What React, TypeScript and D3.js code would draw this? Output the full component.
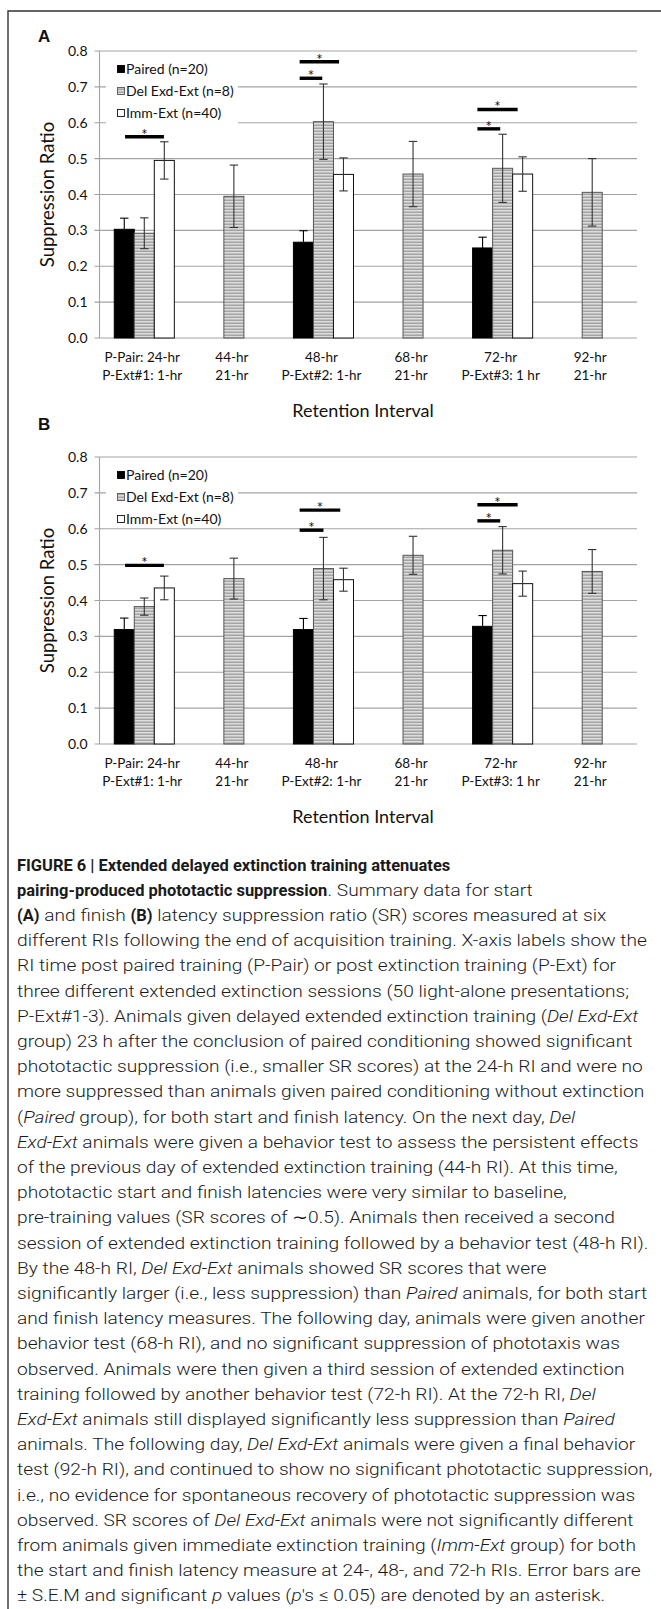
import React, { useEffect, useRef } from "react";
import * as d3 from "d3";

const W = 661;
const H = 1609;

// ---------- data ----------
const categoriesLine1 = ["P-Pair: 24-hr", "44-hr", "48-hr", "68-hr", "72-hr", "92-hr"];
const categoriesLine2 = ["P-Ext#1: 1-hr", "21-hr", "P-Ext#2: 1-hr", "21-hr", "P-Ext#3: 1 hr", "21-hr"];
const seriesNames = ["Paired (n=20)", "Del Exd-Ext (n=8)", "Imm-Ext (n=40)"];
const yTicks = [0, 0.1, 0.2, 0.3, 0.4, 0.5, 0.6, 0.7, 0.8];

// Panel A: start latency
const startPaired = [0.303, null, 0.267, null, 0.251, null];
const startPairedErr = [0.031, null, 0.032, null, 0.030, null];
const startDel = [0.292, 0.395, 0.603, 0.457, 0.473, 0.406];
const startDelErr = [0.043, 0.087, 0.105, 0.091, 0.095, 0.094];
const startImm = [0.495, null, 0.456, null, 0.457, null];
const startImmErr = [0.052, null, 0.046, null, 0.048, null];
// significance: category, from slot, to slot (slot units), value level
const startSigCat = [0, 2, 2, 4, 4];
const startSigFrom = [0.04, -0.19, -0.19, -0.26, -0.26];
const startSigTo = [1.98, 1.78, 0.94, 1.75, 0.88];
const startSigLevel = [0.561, 0.770, 0.724, 0.637, 0.583];

// Panel B: finish latency
const finishPaired = [0.319, null, 0.319, null, 0.328, null];
const finishPairedErr = [0.032, null, 0.031, null, 0.030, null];
const finishDel = [0.383, 0.461, 0.489, 0.526, 0.540, 0.481];
const finishDelErr = [0.024, 0.057, 0.087, 0.053, 0.066, 0.061];
const finishImm = [0.435, null, 0.458, null, 0.447, null];
const finishImmErr = [0.033, null, 0.032, null, 0.035, null];
const finishSigCat = [0, 2, 2, 4, 4];
const finishSigFrom = [0.04, -0.19, -0.19, -0.26, -0.26];
const finishSigTo = [1.98, 1.84, 1.0, 1.75, 0.88];
const finishSigLevel = [0.498, 0.652, 0.596, 0.667, 0.622];

const captionLines = [
  "**FIGURE 6 | Extended delayed extinction training attenuates**",
  "**pairing-produced phototactic suppression**. Summary data for start",
  "**(A)** and finish **(B)** latency suppression ratio (SR) scores measured at six",
  "different RIs following the end of acquisition training. X-axis labels show the",
  "RI time post paired training (P-Pair) or post extinction training (P-Ext) for",
  "three different extended extinction sessions (50 light-alone presentations;",
  "P-Ext#1-3). Animals given delayed extended extinction training (_Del Exd-Ext_",
  "group) 23 h after the conclusion of paired conditioning showed significant",
  "phototactic suppression (i.e., smaller SR scores) at the 24-h RI and were no",
  "more suppressed than animals given paired conditioning without extinction",
  "(_Paired_ group), for both start and finish latency. On the next day, _Del_",
  "_Exd-Ext_ animals were given a behavior test to assess the persistent effects",
  "of the previous day of extended extinction training (44-h RI). At this time,",
  "phototactic start and finish latencies were very similar to baseline,",
  "pre-training values (SR scores of \u223C0.5). Animals then received a second",
  "session of extended extinction training followed by a behavior test (48-h RI).",
  "By the 48-h RI, _Del Exd-Ext_ animals showed SR scores that were",
  "significantly larger (i.e., less suppression) than _Paired_ animals, for both start",
  "and finish latency measures. The following day, animals were given another",
  "behavior test (68-h RI), and no significant suppression of phototaxis was",
  "observed. Animals were then given a third session of extended extinction",
  "training followed by another behavior test (72-h RI). At the 72-h RI, _Del_",
  "_Exd-Ext_ animals still displayed significantly less suppression than _Paired_",
  "animals. The following day, _Del Exd-Ext_ animals were given a final behavior",
  "test (92-h RI), and continued to show no significant phototactic suppression,",
  "i.e., no evidence for spontaneous recovery of phototactic suppression was",
  "observed. SR scores of _Del Exd-Ext_ animals were not significantly different",
  "from animals given immediate extinction training (_Imm-Ext_ group) for both",
  "the start and finish latency measure at 24-, 48-, and 72-h RIs. Error bars are",
  "\u00B1 S.E.M and significant _p_ values (_p_'s \u2264 0.05) are denoted by an asterisk.",
];

// ---------- layout ----------
const X0 = 99.5;
const X1 = 637;
const CHART_FONT = "Lato, 'Open Sans', sans-serif";

type PanelCfg = {
  label: string;
  labelY: number;
  top: number;
  bottom: number;
  legendY: number[];
  legendBox: [number, number];
  values: (number | null)[][];
  errs: (number | null)[][];
  sigCat: number[];
  sigFrom: number[];
  sigTo: number[];
  sigLevel: number[];
};

function drawPanel(svg: any, p: PanelCfg) {
  const g = svg.append("g");
  const x = d3.scaleBand<number>().domain(d3.range(6)).range([X0, X1]).padding(0);
  const bw = x.bandwidth() * 0.2235;
  const slot = d3.scaleLinear().domain([0, 2]).range([-bw, bw]);
  const y = d3.scaleLinear().domain([0, 0.8]).range([p.bottom, p.top]);
  const cx = (c: number) => (x(c) as number) + x.bandwidth() / 2;

  // panel letter
  g.append("text")
    .attr("x", 38)
    .attr("y", p.labelY)
    .attr("font-family", "'Liberation Sans', Arial, sans-serif")
    .attr("font-weight", 700)
    .attr("font-size", 17)
    .attr("fill", "#111")
    .text(p.label);

  // gridlines + ticks
  yTicks.forEach((t) => {
    g.append("line")
      .attr("x1", X0 - 5)
      .attr("x2", X1)
      .attr("y1", y(t))
      .attr("y2", y(t))
      .attr("stroke", "#a3a3a3")
      .attr("stroke-width", 1.1);
    g.append("text")
      .attr("x", X0 - 12)
      .attr("y", y(t) + 5)
      .attr("text-anchor", "end")
      .attr("font-family", CHART_FONT)
      .attr("font-size", 14)
      .attr("fill", "#111")
      .text(d3.format(".1f")(t));
  });
  // y axis line
  g.append("line")
    .attr("x1", X0)
    .attr("x2", X0)
    .attr("y1", p.top)
    .attr("y2", p.bottom)
    .attr("stroke", "#a3a3a3")
    .attr("stroke-width", 1.1);

  // y title
  const midY = (p.top + p.bottom) / 2;
  g.append("text")
    .attr("transform", `translate(47,${midY}) rotate(-90)`)
    .attr("text-anchor", "middle")
    .attr("dominant-baseline", "central")
    .attr("font-family", CHART_FONT)
    .attr("font-size", 18.5)
    .attr("fill", "#111")
    .text("Suppression Ratio");

  // legend box
  g.append("rect")
    .attr("x", 106)
    .attr("y", p.legendBox[0])
    .attr("width", 132)
    .attr("height", p.legendBox[1] - p.legendBox[0])
    .attr("fill", "#fff");
  const fills = ["#000", "url(#stripes)", "#fff"];
  const strokes = ["#000", "#555", "#111"];
  seriesNames.forEach((s, i) => {
    const ly = p.legendY[i];
    g.append("rect")
      .attr("x", 117.5)
      .attr("y", ly - 3.5)
      .attr("width", 7)
      .attr("height", 7)
      .attr("fill", fills[i])
      .attr("stroke", strokes[i])
      .attr("stroke-width", 0.9);
    g.append("text")
      .attr("x", 126)
      .attr("y", ly + 5)
      .attr("font-family", CHART_FONT)
      .attr("font-size", 14)
      .attr("fill", "#111")
      .text(s);
  });

  // bars
  p.values.forEach((vals, si) => {
    vals.forEach((v, ci) => {
      if (v == null) return;
      const xc = cx(ci) + slot(si);
      g.append("rect")
        .attr("x", xc - bw / 2)
        .attr("y", y(v))
        .attr("width", bw)
        .attr("height", y(0) - y(v))
        .attr("fill", fills[si])
        .attr("stroke", strokes[si])
        .attr("stroke-width", 1);
    });
  });
  // error bars
  p.values.forEach((vals, si) => {
    vals.forEach((v, ci) => {
      const e = p.errs[si][ci];
      if (v == null || e == null) return;
      const xc = cx(ci) + slot(si);
      const col = si === 0 ? "#000" : "#333";
      g.append("line")
        .attr("x1", xc).attr("x2", xc)
        .attr("y1", y(v + e)).attr("y2", y(v - e))
        .attr("stroke", col).attr("stroke-width", 1.1);
      [v + e, v - e].forEach((yy) => {
        g.append("line")
          .attr("x1", xc - 4.2).attr("x2", xc + 4.2)
          .attr("y1", y(yy)).attr("y2", y(yy))
          .attr("stroke", col).attr("stroke-width", 1.1);
      });
    });
  });

  // significance markers
  p.sigCat.forEach((c, i) => {
    const xa = cx(c) + slot(p.sigFrom[i]);
    const xb = cx(c) + slot(p.sigTo[i]);
    const yy = y(p.sigLevel[i]);
    g.append("line")
      .attr("x1", xa).attr("x2", xb)
      .attr("y1", yy).attr("y2", yy)
      .attr("stroke", "#000").attr("stroke-width", 3.4);
    g.append("text")
      .attr("x", (xa + xb) / 2)
      .attr("y", yy + 3)
      .attr("text-anchor", "middle")
      .attr("font-family", CHART_FONT)
      .attr("font-size", 15)
      .attr("fill", "#111")
      .text("*");
  });

  // category labels
  categoriesLine1.forEach((c, i) => {
    g.append("text")
      .attr("x", cx(i) - 2)
      .attr("y", p.bottom + 23.5)
      .attr("text-anchor", "middle")
      .attr("font-family", CHART_FONT)
      .attr("font-size", 13.5)
      .attr("fill", "#111")
      .text(c);
    g.append("text")
      .attr("x", cx(i) - 2)
      .attr("y", p.bottom + 42)
      .attr("text-anchor", "middle")
      .attr("font-family", CHART_FONT)
      .attr("font-size", 13.5)
      .attr("fill", "#111")
      .text(categoriesLine2[i]);
  });
  g.append("text")
    .attr("x", 363)
    .attr("y", p.bottom + 79)
    .attr("text-anchor", "middle")
    .attr("font-family", CHART_FONT)
    .attr("font-size", 18)
    .attr("fill", "#111")
    .text("Retention Interval");
}

function parseLine(line: string) {
  const segs: { t: string; s: string }[] = [];
  const re = /(\*\*[^*]+\*\*|_[^_]+_)/g;
  let last = 0;
  let m: RegExpExecArray | null;
  while ((m = re.exec(line))) {
    if (m.index > last) segs.push({ t: line.slice(last, m.index), s: "n" });
    const tok = m[0];
    if (tok.startsWith("**")) segs.push({ t: tok.slice(2, -2), s: "b" });
    else segs.push({ t: tok.slice(1, -1), s: "i" });
    last = m.index + tok.length;
  }
  if (last < line.length) segs.push({ t: line.slice(last), s: "n" });
  return segs;
}

export default function App() {
  const ref = useRef<SVGSVGElement>(null);
  useEffect(() => {
    const svg = d3.select(ref.current);
    svg.selectAll("*").remove();

    const defs = svg.append("defs");
    const pat = defs
      .append("pattern")
      .attr("id", "stripes")
      .attr("patternUnits", "userSpaceOnUse")
      .attr("width", 4)
      .attr("height", 3);
    pat.append("rect").attr("width", 4).attr("height", 3).attr("fill", "#dcdcdc");
    pat.append("rect").attr("y", 1.5).attr("width", 4).attr("height", 1.5).attr("fill", "#a4a4a4");

    svg.append("rect").attr("width", W).attr("height", H).attr("fill", "#fff");
    // frame
    svg
      .append("path")
      .attr("d", `M8,${H} V11 H${W}`)
      .attr("fill", "none")
      .attr("stroke", "#333")
      .attr("stroke-width", 1.4);

    drawPanel(svg, {
      label: "A",
      labelY: 42,
      top: 51,
      bottom: 338,
      legendY: [69, 91, 113],
      legendBox: [57, 126],
      values: [startPaired, startDel, startImm],
      errs: [startPairedErr, startDelErr, startImmErr],
      sigCat: startSigCat,
      sigFrom: startSigFrom,
      sigTo: startSigTo,
      sigLevel: startSigLevel,
    });
    drawPanel(svg, {
      label: "B",
      labelY: 430,
      top: 457,
      bottom: 744,
      legendY: [475, 497, 519],
      legendBox: [462, 527],
      values: [finishPaired, finishDel, finishImm],
      errs: [finishPairedErr, finishDelErr, finishImmErr],
      sigCat: finishSigCat,
      sigFrom: finishSigFrom,
      sigTo: finishSigTo,
      sigLevel: finishSigLevel,
    });

    // caption: each segment laid out separately so bold segments can be condensed
    const FONT = "Roboto, 'Liberation Sans', sans-serif";
    const cap = svg.append("g");
    const lineGroups: any[] = [];
    const mkText = (parent: any, s: string, t: string) => {
      const el = parent
        .append("text")
        .attr("x", 0)
        .attr("y", 0)
        .attr("font-family", FONT)
        .attr("font-size", 17)
        .attr("font-weight", s === "b" ? 700 : 300)
        .attr("font-style", s === "i" ? "italic" : "normal")
        .attr("fill", "#1a1a1a")
        .style("white-space", "pre")
        .text(t);
      return el;
    };
    captionLines.forEach((line, i) => {
      const lg = cap.append("g").attr("transform", `translate(0,${864 + i * 25.2 + 6.5})`);
      lineGroups.push({ lg, segs: parseLine(line) });
    });
    // measure reference line (regular) to get overall horizontal compression
    const probe = mkText(cap, "n", parseLine(captionLines[3])[0].t);
    const refLen = (probe.node() as SVGTextElement).getComputedTextLength();
    probe.remove();
    const k = refLen > 0 ? 630 / refLen : 1;
    const boldK = 0.86;
    lineGroups.forEach(({ lg, segs }) => {
      let cursor = 0;
      segs.forEach((sg: any) => {
        const el = mkText(lg, sg.s, sg.t);
        const w = (el.node() as SVGTextElement).getComputedTextLength();
        const f = sg.s === "b" ? k * boldK : k;
        el.attr("transform", `translate(${cursor},0) scale(${f},1)`);
        cursor += w * f;
      });
    });
    cap.attr("transform", "translate(17,0)");
  }, []);
  return (
    <svg
      ref={ref}
      width={W}
      height={H}
      style={{ position: "absolute", left: 0, top: 0, display: "block" }}
    />
  );
}
